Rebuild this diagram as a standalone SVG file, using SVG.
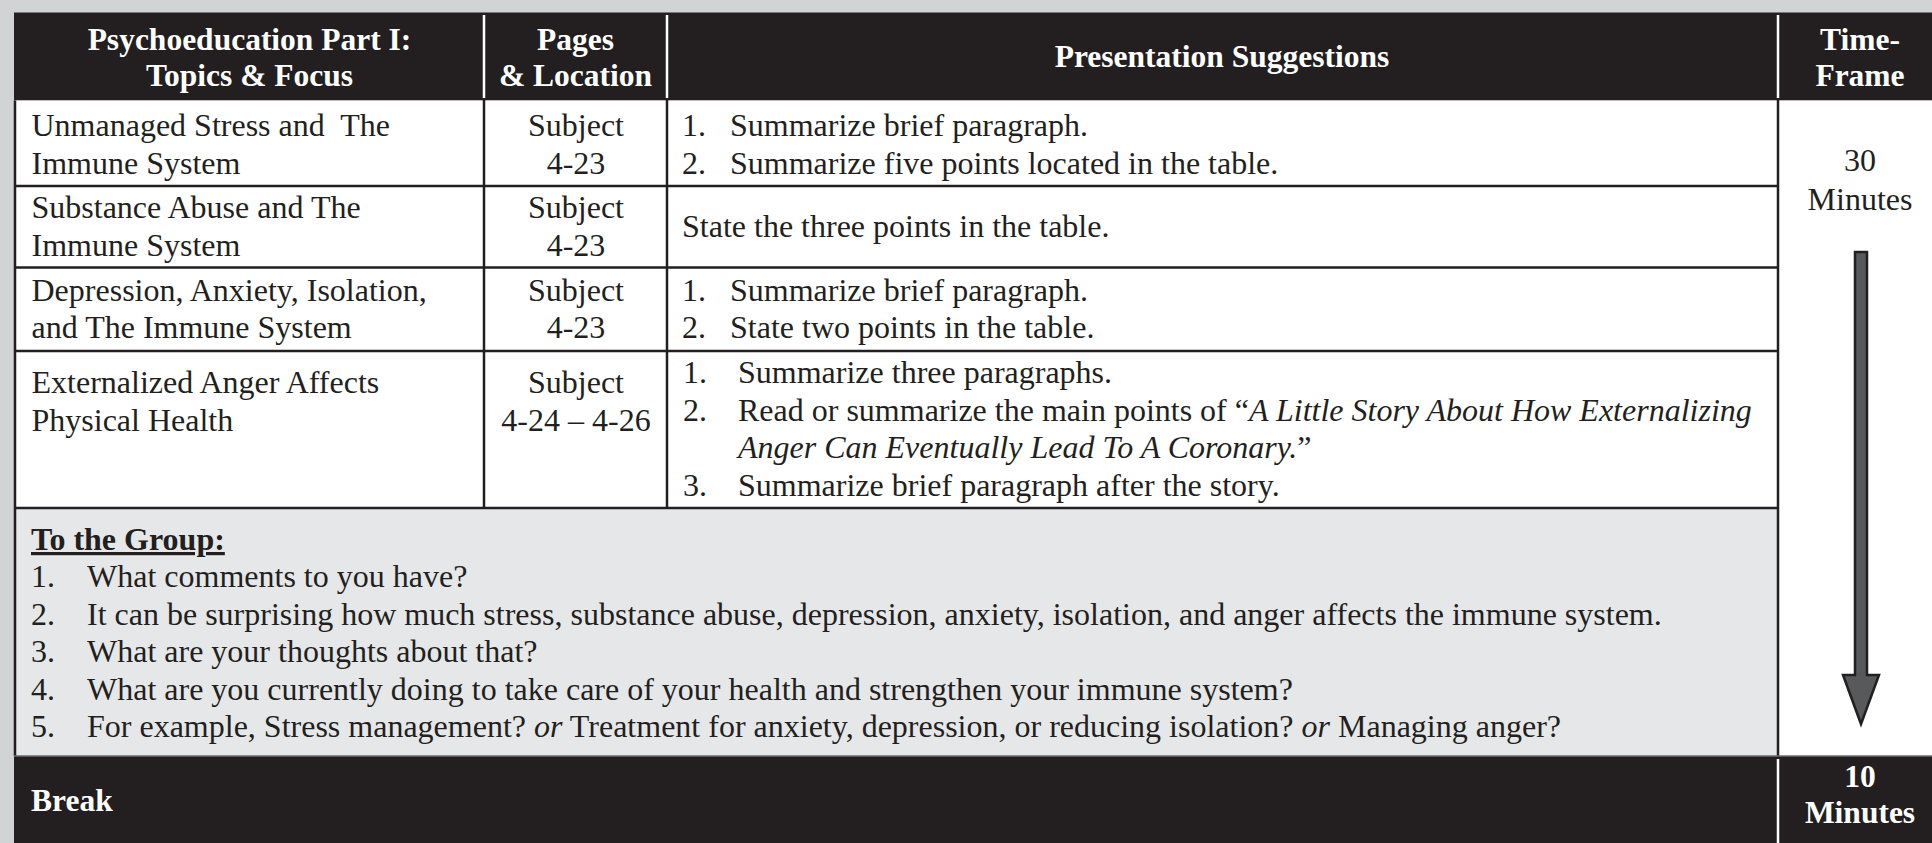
<svg xmlns="http://www.w3.org/2000/svg" width="1932" height="843" viewBox="0 0 1932 843">
<style>
.t{font-family:"Liberation Serif","Times New Roman",serif;font-size:32px;fill:#231f20}
.h{font-family:"Liberation Serif","Times New Roman",serif;font-size:31.5px;font-weight:bold;fill:#ffffff;text-anchor:middle}
.hl{font-family:"Liberation Serif","Times New Roman",serif;font-size:31.5px;font-weight:bold;fill:#ffffff}
.c{text-anchor:middle}
.i{font-style:italic}
.ln{stroke:#231f20;stroke-width:2.5;fill:none}
.wl{stroke:#ffffff;stroke-width:2.5;fill:none}
</style>
<rect x="0" y="0" width="1932" height="843" fill="#d1d3d4"/>

<g id="header">
  <rect x="14" y="12.5" width="1918" height="88" fill="#231f20"/>
  <line class="wl" x1="484" y1="15" x2="484" y2="98"/>
  <line class="wl" x1="667" y1="15" x2="667" y2="98"/>
  <line class="wl" x1="1778" y1="15" x2="1778" y2="98"/>
  <text class="h" x="249.5" y="50">Psychoeducation Part I:</text>
  <text class="h" x="249.5" y="85.5">Topics &amp; Focus</text>
  <text class="h" x="575.5" y="50">Pages</text>
  <text class="h" x="575.5" y="85.5">&amp; Location</text>
  <text class="h" x="1222" y="67">Presentation Suggestions</text>
  <text class="h" x="1860" y="50">Time-</text>
  <text class="h" x="1860" y="85.5">Frame</text>
</g>

<g id="body-bg">
  <rect x="15" y="100.5" width="1763" height="407.5" fill="#ffffff"/>
  <rect x="1778" y="100.5" width="154" height="655.5" fill="#ffffff"/>
  <rect x="15" y="508" width="1763" height="248" fill="#e6e7e8"/>
</g>

<g id="row1">
  <text class="t" x="31.5" y="136">Unmanaged Stress and&#160; The</text>
  <text class="t" x="31.5" y="173.5">Immune System</text>
  <text class="t c" x="576" y="136">Subject</text>
  <text class="t c" x="576" y="173.5">4-23</text>
  <text class="t" x="682" y="136">1.</text>
  <text class="t" x="730" y="136">Summarize brief paragraph.</text>
  <text class="t" x="682" y="173.5">2.</text>
  <text class="t" x="730" y="173.5">Summarize five points located in the table.</text>
</g>

<g id="row2">
  <text class="t" x="31.5" y="218">Substance Abuse and The</text>
  <text class="t" x="31.5" y="256">Immune System</text>
  <text class="t c" x="576" y="218">Subject</text>
  <text class="t c" x="576" y="256">4-23</text>
  <text class="t" x="682" y="237">State the three points in the table.</text>
</g>

<g id="row3">
  <text class="t" x="31.5" y="300.5">Depression, Anxiety, Isolation,</text>
  <text class="t" x="31.5" y="338">and The Immune System</text>
  <text class="t c" x="576" y="300.5">Subject</text>
  <text class="t c" x="576" y="338">4-23</text>
  <text class="t" x="682" y="300.5">1.</text>
  <text class="t" x="730" y="300.5">Summarize brief paragraph.</text>
  <text class="t" x="682" y="338">2.</text>
  <text class="t" x="730" y="338">State two points in the table.</text>
</g>

<g id="row4">
  <text class="t" x="31.5" y="393">Externalized Anger Affects</text>
  <text class="t" x="31.5" y="430.5">Physical Health</text>
  <text class="t c" x="576" y="393">Subject</text>
  <text class="t c" x="576" y="430.5">4-24 – 4-26</text>
  <text class="t" x="683" y="383">1.</text>
  <text class="t" x="738" y="383">Summarize three paragraphs.</text>
  <text class="t" x="683" y="420.5">2.</text>
  <text class="t" x="738" y="420.5">Read or summarize the main points of “<tspan class="i">A Little Story About How Externalizing</tspan></text>
  <text class="t" x="738" y="458"><tspan class="i">Anger Can Eventually Lead To A Coronary.</tspan>”</text>
  <text class="t" x="683" y="495.5">3.</text>
  <text class="t" x="738" y="495.5">Summarize brief paragraph after the story.</text>
</g>

<g id="group-questions">
  <text class="t" x="31" y="550" font-weight="bold" text-decoration="underline">To the Group:</text>
  <text class="t" x="31" y="587">1.</text>
  <text class="t" x="87" y="587">What comments to you have?</text>
  <text class="t" x="31" y="624.5">2.</text>
  <text class="t" x="87" y="624.5">It can be surprising how much stress, substance abuse, depression, anxiety, isolation, and anger affects the immune system.</text>
  <text class="t" x="31" y="662">3.</text>
  <text class="t" x="87" y="662">What are your thoughts about that?</text>
  <text class="t" x="31" y="699.5">4.</text>
  <text class="t" x="87" y="699.5">What are you currently doing to take care of your health and strengthen your immune system?</text>
  <text class="t" x="31" y="737">5.</text>
  <text class="t" x="87" y="737">For example, Stress management? <tspan class="i">or</tspan> Treatment for anxiety, depression, or reducing isolation? <tspan class="i">or</tspan> Managing anger?</text>
</g>

<g id="timeframe">
  <text class="t c" x="1860" y="171" font-size="34">30</text>
  <text class="t c" x="1860" y="210" font-size="34">Minutes</text>
  <path d="M1855,252 H1867 V675 H1879 L1861,724 L1843,675 H1855 Z" fill="#58595b" stroke="#231f20" stroke-width="2.5" stroke-linejoin="miter"/>
</g>

<g id="connectors">
  <line class="ln" x1="15" y1="100.5" x2="15" y2="756"/>
  <line class="ln" x1="484" y1="100" x2="484" y2="508"/>
  <line class="ln" x1="667" y1="100" x2="667" y2="508"/>
  <line class="ln" x1="1778" y1="100" x2="1778" y2="756"/>
  <line class="ln" x1="15" y1="186" x2="1778" y2="186"/>
  <line class="ln" x1="15" y1="267.5" x2="1778" y2="267.5"/>
  <line class="ln" x1="15" y1="351" x2="1778" y2="351"/>
  <line class="ln" x1="15" y1="508" x2="1778" y2="508"/>
</g>

<g id="break">
  <rect x="14" y="756" width="1918" height="87" fill="#231f20"/>
  <line x1="14" y1="756" x2="1932" y2="756" stroke="#6d6e71" stroke-width="1.5"/>
  <line class="wl" x1="1778" y1="759" x2="1778" y2="843"/>
  <text class="hl" x="31" y="811">Break</text>
  <text class="h" x="1860" y="787" font-size="29">10</text>
  <text class="h" x="1860" y="822.5" font-size="29">Minutes</text>
</g>
</svg>
